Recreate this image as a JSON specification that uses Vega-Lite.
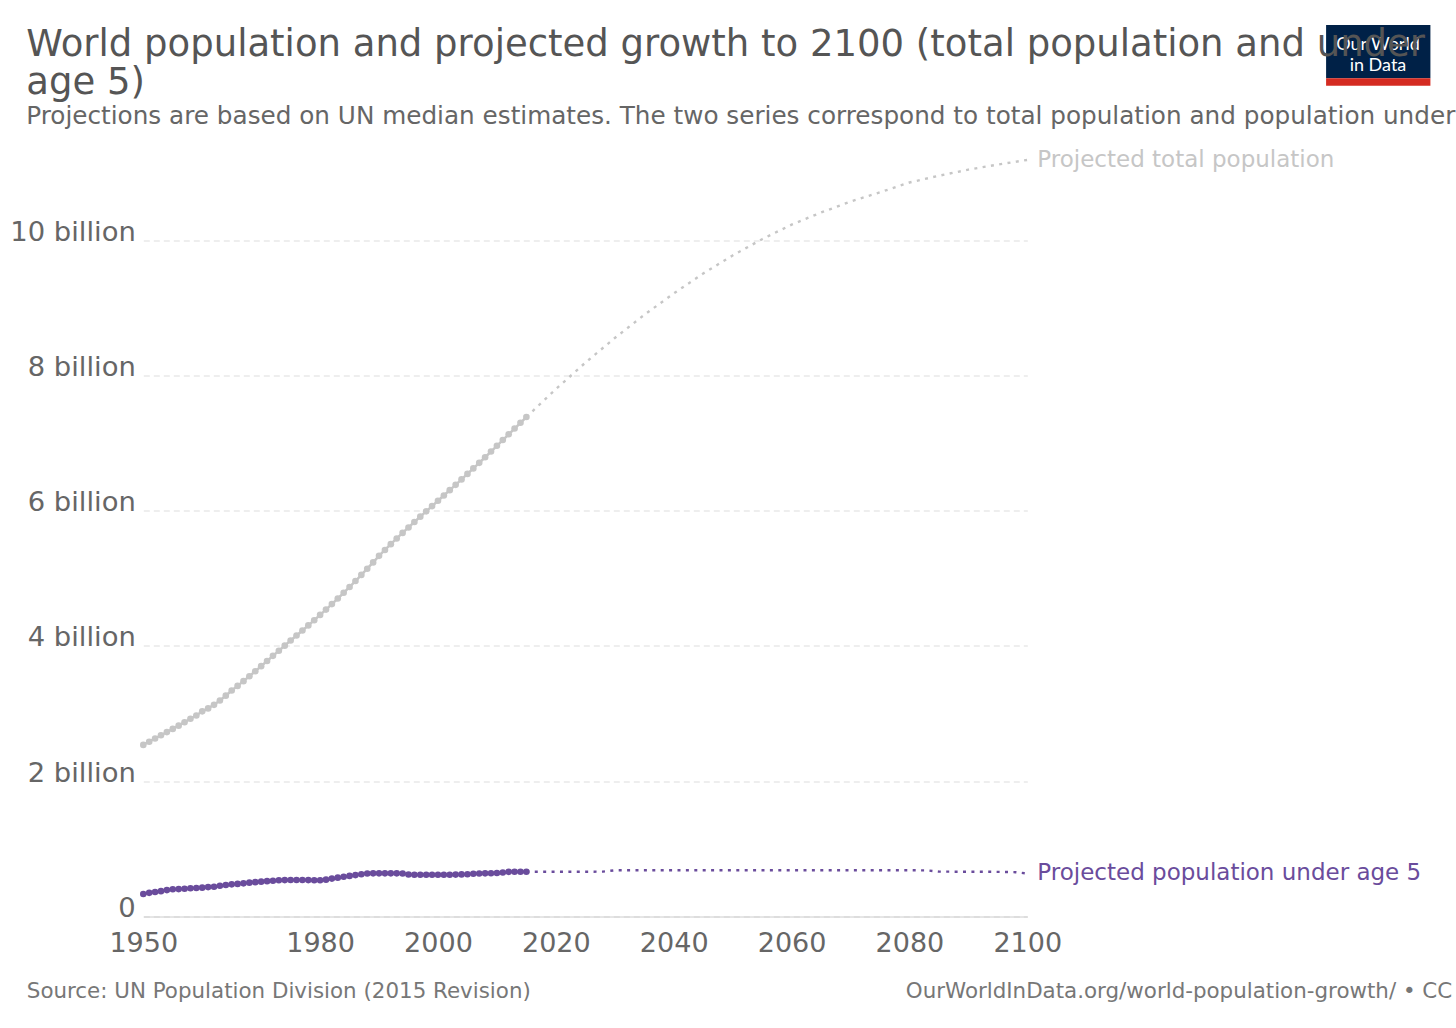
{
  "$schema": "https://vega.github.io/schema/vega-lite/v6.json",
  "width": 884,
  "height": 757,
  "autosize": {"type": "none"},
  "padding": {"left": 143.3, "top": 159.5, "right": 428.7, "bottom": 111.5},
  "background": "#ffffff",
  "config": {
    "view": {"stroke": null},
    "font": "DejaVu Sans",
    "text": {"font": "DejaVu Sans"}
  },
  "title": {
    "text": ["World population and projected growth to 2100 (total population and under", "age 5)"],
    "subtitle": "Projections are based on UN median estimates. The two series correspond to total population and population under",
    "anchor": "start",
    "frame": "group",
    "dx": -117,
    "offset": -105,
    "font": "DejaVu Sans",
    "fontSize": 37,
    "fontWeight": "normal",
    "lineHeight": 38,
    "color": "#555555",
    "subtitleFont": "DejaVu Sans",
    "subtitleFontSize": 24.7,
    "subtitleColor": "#666666",
    "subtitlePadding": 2
  },
  "data": {
    "values": [
      {"year": 1950, "series": "Total population", "period": "historical", "population_billions": 2.536},
      {"year": 1951, "series": "Total population", "period": "historical", "population_billions": 2.584},
      {"year": 1952, "series": "Total population", "period": "historical", "population_billions": 2.631},
      {"year": 1953, "series": "Total population", "period": "historical", "population_billions": 2.679},
      {"year": 1954, "series": "Total population", "period": "historical", "population_billions": 2.726},
      {"year": 1955, "series": "Total population", "period": "historical", "population_billions": 2.773},
      {"year": 1956, "series": "Total population", "period": "historical", "population_billions": 2.821},
      {"year": 1957, "series": "Total population", "period": "historical", "population_billions": 2.871},
      {"year": 1958, "series": "Total population", "period": "historical", "population_billions": 2.923},
      {"year": 1959, "series": "Total population", "period": "historical", "population_billions": 2.971},
      {"year": 1960, "series": "Total population", "period": "historical", "population_billions": 3.033},
      {"year": 1961, "series": "Total population", "period": "historical", "population_billions": 3.076},
      {"year": 1962, "series": "Total population", "period": "historical", "population_billions": 3.129},
      {"year": 1963, "series": "Total population", "period": "historical", "population_billions": 3.193},
      {"year": 1964, "series": "Total population", "period": "historical", "population_billions": 3.264},
      {"year": 1965, "series": "Total population", "period": "historical", "population_billions": 3.340},
      {"year": 1966, "series": "Total population", "period": "historical", "population_billions": 3.409},
      {"year": 1967, "series": "Total population", "period": "historical", "population_billions": 3.479},
      {"year": 1968, "series": "Total population", "period": "historical", "population_billions": 3.551},
      {"year": 1969, "series": "Total population", "period": "historical", "population_billions": 3.625},
      {"year": 1970, "series": "Total population", "period": "historical", "population_billions": 3.701},
      {"year": 1971, "series": "Total population", "period": "historical", "population_billions": 3.777},
      {"year": 1972, "series": "Total population", "period": "historical", "population_billions": 3.853},
      {"year": 1973, "series": "Total population", "period": "historical", "population_billions": 3.929},
      {"year": 1974, "series": "Total population", "period": "historical", "population_billions": 4.004},
      {"year": 1975, "series": "Total population", "period": "historical", "population_billions": 4.079},
      {"year": 1976, "series": "Total population", "period": "historical", "population_billions": 4.153},
      {"year": 1977, "series": "Total population", "period": "historical", "population_billions": 4.227},
      {"year": 1978, "series": "Total population", "period": "historical", "population_billions": 4.303},
      {"year": 1979, "series": "Total population", "period": "historical", "population_billions": 4.380},
      {"year": 1980, "series": "Total population", "period": "historical", "population_billions": 4.458},
      {"year": 1981, "series": "Total population", "period": "historical", "population_billions": 4.537},
      {"year": 1982, "series": "Total population", "period": "historical", "population_billions": 4.618},
      {"year": 1983, "series": "Total population", "period": "historical", "population_billions": 4.701},
      {"year": 1984, "series": "Total population", "period": "historical", "population_billions": 4.785},
      {"year": 1985, "series": "Total population", "period": "historical", "population_billions": 4.871},
      {"year": 1986, "series": "Total population", "period": "historical", "population_billions": 4.959},
      {"year": 1987, "series": "Total population", "period": "historical", "population_billions": 5.049},
      {"year": 1988, "series": "Total population", "period": "historical", "population_billions": 5.141},
      {"year": 1989, "series": "Total population", "period": "historical", "population_billions": 5.234},
      {"year": 1990, "series": "Total population", "period": "historical", "population_billions": 5.331},
      {"year": 1991, "series": "Total population", "period": "historical", "population_billions": 5.418},
      {"year": 1992, "series": "Total population", "period": "historical", "population_billions": 5.504},
      {"year": 1993, "series": "Total population", "period": "historical", "population_billions": 5.588},
      {"year": 1994, "series": "Total population", "period": "historical", "population_billions": 5.670},
      {"year": 1995, "series": "Total population", "period": "historical", "population_billions": 5.751},
      {"year": 1996, "series": "Total population", "period": "historical", "population_billions": 5.831},
      {"year": 1997, "series": "Total population", "period": "historical", "population_billions": 5.910},
      {"year": 1998, "series": "Total population", "period": "historical", "population_billions": 5.989},
      {"year": 1999, "series": "Total population", "period": "historical", "population_billions": 6.067},
      {"year": 2000, "series": "Total population", "period": "historical", "population_billions": 6.145},
      {"year": 2001, "series": "Total population", "period": "historical", "population_billions": 6.223},
      {"year": 2002, "series": "Total population", "period": "historical", "population_billions": 6.302},
      {"year": 2003, "series": "Total population", "period": "historical", "population_billions": 6.381},
      {"year": 2004, "series": "Total population", "period": "historical", "population_billions": 6.461},
      {"year": 2005, "series": "Total population", "period": "historical", "population_billions": 6.542},
      {"year": 2006, "series": "Total population", "period": "historical", "population_billions": 6.624},
      {"year": 2007, "series": "Total population", "period": "historical", "population_billions": 6.706},
      {"year": 2008, "series": "Total population", "period": "historical", "population_billions": 6.789},
      {"year": 2009, "series": "Total population", "period": "historical", "population_billions": 6.873},
      {"year": 2010, "series": "Total population", "period": "historical", "population_billions": 6.958},
      {"year": 2011, "series": "Total population", "period": "historical", "population_billions": 7.043},
      {"year": 2012, "series": "Total population", "period": "historical", "population_billions": 7.128},
      {"year": 2013, "series": "Total population", "period": "historical", "population_billions": 7.213},
      {"year": 2014, "series": "Total population", "period": "historical", "population_billions": 7.298},
      {"year": 2015, "series": "Total population", "period": "historical", "population_billions": 7.383},
      {"year": 2015, "series": "Total population", "period": "projected", "population_billions": 7.383},
      {"year": 2020, "series": "Total population", "period": "projected", "population_billions": 7.795},
      {"year": 2025, "series": "Total population", "period": "projected", "population_billions": 8.186},
      {"year": 2030, "series": "Total population", "period": "projected", "population_billions": 8.551},
      {"year": 2035, "series": "Total population", "period": "projected", "population_billions": 8.893},
      {"year": 2040, "series": "Total population", "period": "projected", "population_billions": 9.210},
      {"year": 2045, "series": "Total population", "period": "projected", "population_billions": 9.504},
      {"year": 2050, "series": "Total population", "period": "projected", "population_billions": 9.772},
      {"year": 2055, "series": "Total population", "period": "projected", "population_billions": 10.012},
      {"year": 2060, "series": "Total population", "period": "projected", "population_billions": 10.227},
      {"year": 2065, "series": "Total population", "period": "projected", "population_billions": 10.406},
      {"year": 2070, "series": "Total population", "period": "projected", "population_billions": 10.568},
      {"year": 2075, "series": "Total population", "period": "projected", "population_billions": 10.705},
      {"year": 2080, "series": "Total population", "period": "projected", "population_billions": 10.850},
      {"year": 2085, "series": "Total population", "period": "projected", "population_billions": 10.950},
      {"year": 2090, "series": "Total population", "period": "projected", "population_billions": 11.040},
      {"year": 2095, "series": "Total population", "period": "projected", "population_billions": 11.115},
      {"year": 2100, "series": "Total population", "period": "projected", "population_billions": 11.184},
      {"year": 1950, "series": "Population under age 5", "period": "historical", "population_billions": 0.333},
      {"year": 1951, "series": "Population under age 5", "period": "historical", "population_billions": 0.350},
      {"year": 1952, "series": "Population under age 5", "period": "historical", "population_billions": 0.362},
      {"year": 1953, "series": "Population under age 5", "period": "historical", "population_billions": 0.375},
      {"year": 1954, "series": "Population under age 5", "period": "historical", "population_billions": 0.390},
      {"year": 1955, "series": "Population under age 5", "period": "historical", "population_billions": 0.403},
      {"year": 1956, "series": "Population under age 5", "period": "historical", "population_billions": 0.405},
      {"year": 1957, "series": "Population under age 5", "period": "historical", "population_billions": 0.410},
      {"year": 1958, "series": "Population under age 5", "period": "historical", "population_billions": 0.418},
      {"year": 1959, "series": "Population under age 5", "period": "historical", "population_billions": 0.422},
      {"year": 1960, "series": "Population under age 5", "period": "historical", "population_billions": 0.426},
      {"year": 1961, "series": "Population under age 5", "period": "historical", "population_billions": 0.435},
      {"year": 1962, "series": "Population under age 5", "period": "historical", "population_billions": 0.440},
      {"year": 1963, "series": "Population under age 5", "period": "historical", "population_billions": 0.455},
      {"year": 1964, "series": "Population under age 5", "period": "historical", "population_billions": 0.465},
      {"year": 1965, "series": "Population under age 5", "period": "historical", "population_billions": 0.475},
      {"year": 1966, "series": "Population under age 5", "period": "historical", "population_billions": 0.482},
      {"year": 1967, "series": "Population under age 5", "period": "historical", "population_billions": 0.490},
      {"year": 1968, "series": "Population under age 5", "period": "historical", "population_billions": 0.500},
      {"year": 1969, "series": "Population under age 5", "period": "historical", "population_billions": 0.508},
      {"year": 1970, "series": "Population under age 5", "period": "historical", "population_billions": 0.515},
      {"year": 1971, "series": "Population under age 5", "period": "historical", "population_billions": 0.522},
      {"year": 1972, "series": "Population under age 5", "period": "historical", "population_billions": 0.528},
      {"year": 1973, "series": "Population under age 5", "period": "historical", "population_billions": 0.535},
      {"year": 1974, "series": "Population under age 5", "period": "historical", "population_billions": 0.538},
      {"year": 1975, "series": "Population under age 5", "period": "historical", "population_billions": 0.540},
      {"year": 1976, "series": "Population under age 5", "period": "historical", "population_billions": 0.540},
      {"year": 1977, "series": "Population under age 5", "period": "historical", "population_billions": 0.540},
      {"year": 1978, "series": "Population under age 5", "period": "historical", "population_billions": 0.538},
      {"year": 1979, "series": "Population under age 5", "period": "historical", "population_billions": 0.536},
      {"year": 1980, "series": "Population under age 5", "period": "historical", "population_billions": 0.535},
      {"year": 1981, "series": "Population under age 5", "period": "historical", "population_billions": 0.545},
      {"year": 1982, "series": "Population under age 5", "period": "historical", "population_billions": 0.560},
      {"year": 1983, "series": "Population under age 5", "period": "historical", "population_billions": 0.574},
      {"year": 1984, "series": "Population under age 5", "period": "historical", "population_billions": 0.588},
      {"year": 1985, "series": "Population under age 5", "period": "historical", "population_billions": 0.600},
      {"year": 1986, "series": "Population under age 5", "period": "historical", "population_billions": 0.612},
      {"year": 1987, "series": "Population under age 5", "period": "historical", "population_billions": 0.625},
      {"year": 1988, "series": "Population under age 5", "period": "historical", "population_billions": 0.635},
      {"year": 1989, "series": "Population under age 5", "period": "historical", "population_billions": 0.638},
      {"year": 1990, "series": "Population under age 5", "period": "historical", "population_billions": 0.638},
      {"year": 1991, "series": "Population under age 5", "period": "historical", "population_billions": 0.638},
      {"year": 1992, "series": "Population under age 5", "period": "historical", "population_billions": 0.638},
      {"year": 1993, "series": "Population under age 5", "period": "historical", "population_billions": 0.638},
      {"year": 1994, "series": "Population under age 5", "period": "historical", "population_billions": 0.636},
      {"year": 1995, "series": "Population under age 5", "period": "historical", "population_billions": 0.620},
      {"year": 1996, "series": "Population under age 5", "period": "historical", "population_billions": 0.618},
      {"year": 1997, "series": "Population under age 5", "period": "historical", "population_billions": 0.618},
      {"year": 1998, "series": "Population under age 5", "period": "historical", "population_billions": 0.618},
      {"year": 1999, "series": "Population under age 5", "period": "historical", "population_billions": 0.618},
      {"year": 2000, "series": "Population under age 5", "period": "historical", "population_billions": 0.618},
      {"year": 2001, "series": "Population under age 5", "period": "historical", "population_billions": 0.618},
      {"year": 2002, "series": "Population under age 5", "period": "historical", "population_billions": 0.618},
      {"year": 2003, "series": "Population under age 5", "period": "historical", "population_billions": 0.619},
      {"year": 2004, "series": "Population under age 5", "period": "historical", "population_billions": 0.622},
      {"year": 2005, "series": "Population under age 5", "period": "historical", "population_billions": 0.625},
      {"year": 2006, "series": "Population under age 5", "period": "historical", "population_billions": 0.632},
      {"year": 2007, "series": "Population under age 5", "period": "historical", "population_billions": 0.636},
      {"year": 2008, "series": "Population under age 5", "period": "historical", "population_billions": 0.638},
      {"year": 2009, "series": "Population under age 5", "period": "historical", "population_billions": 0.640},
      {"year": 2010, "series": "Population under age 5", "period": "historical", "population_billions": 0.643},
      {"year": 2011, "series": "Population under age 5", "period": "historical", "population_billions": 0.650},
      {"year": 2012, "series": "Population under age 5", "period": "historical", "population_billions": 0.660},
      {"year": 2013, "series": "Population under age 5", "period": "historical", "population_billions": 0.662},
      {"year": 2014, "series": "Population under age 5", "period": "historical", "population_billions": 0.662},
      {"year": 2015, "series": "Population under age 5", "period": "historical", "population_billions": 0.662},
      {"year": 2015, "series": "Population under age 5", "period": "projected", "population_billions": 0.662},
      {"year": 2020, "series": "Population under age 5", "period": "projected", "population_billions": 0.662},
      {"year": 2025, "series": "Population under age 5", "period": "projected", "population_billions": 0.662},
      {"year": 2028, "series": "Population under age 5", "period": "projected", "population_billions": 0.663},
      {"year": 2030, "series": "Population under age 5", "period": "projected", "population_billions": 0.683},
      {"year": 2040, "series": "Population under age 5", "period": "projected", "population_billions": 0.684},
      {"year": 2050, "series": "Population under age 5", "period": "projected", "population_billions": 0.684},
      {"year": 2060, "series": "Population under age 5", "period": "projected", "population_billions": 0.684},
      {"year": 2070, "series": "Population under age 5", "period": "projected", "population_billions": 0.684},
      {"year": 2080, "series": "Population under age 5", "period": "projected", "population_billions": 0.683},
      {"year": 2083, "series": "Population under age 5", "period": "projected", "population_billions": 0.682},
      {"year": 2085, "series": "Population under age 5", "period": "projected", "population_billions": 0.663},
      {"year": 2090, "series": "Population under age 5", "period": "projected", "population_billions": 0.662},
      {"year": 2095, "series": "Population under age 5", "period": "projected", "population_billions": 0.660},
      {"year": 2098, "series": "Population under age 5", "period": "projected", "population_billions": 0.655},
      {"year": 2100, "series": "Population under age 5", "period": "projected", "population_billions": 0.636}
    ]
  },
  "layer": [
    {
      "transform": [{"filter": "datum.period == 'historical'"}],
      "mark": {"type": "line", "strokeWidth": 2.5},
      "encoding": {
        "x": {
          "field": "year",
          "type": "quantitative",
          "scale": {"domain": [1950, 2100], "nice": false, "zero": false},
          "axis": {
            "values": [1950, 1980, 2000, 2020, 2040, 2060, 2080, 2100],
            "format": "d",
            "grid": false,
            "ticks": false,
            "domainColor": "#cccccc",
            "domainWidth": 1,
            "labelFont": "DejaVu Sans",
            "labelFontSize": 27,
            "labelColor": "#666666",
            "labelPadding": 14,
            "labelFlush": false,
            "labelOverlap": false,
            "title": "Source: UN Population Division (2015 Revision)",
            "titleFont": "DejaVu Sans",
            "titleFontSize": 21.4,
            "titleFontWeight": "normal",
            "titleColor": "#777777",
            "titleAnchor": "start",
            "titleAlign": "left",
            "titleBaseline": "alphabetic",
            "titleX": -117,
            "titleY": 80.5
          }
        },
        "y": {
          "field": "population_billions",
          "type": "quantitative",
          "scale": {"domain": [0, 11.19], "nice": false},
          "axis": {
            "values": [0, 2, 4, 6, 8, 10],
            "labelExpr": "datum.value == 0 ? '0' : datum.value + ' billion'",
            "grid": true,
            "gridColor": "#dddddd",
            "gridDash": [6, 4],
            "gridWidth": 1,
            "ticks": false,
            "domain": false,
            "labelFont": "DejaVu Sans",
            "labelFontSize": 27.4,
            "labelColor": "#666666",
            "labelBaseline": "alphabetic",
            "labelAlign": "right",
            "labelPadding": 8,
            "labelOverlap": false,
            "title": "OurWorldInData.org/world-population-growth/ • CC",
            "titleFont": "DejaVu Sans",
            "titleFontSize": 21.4,
            "titleFontWeight": "normal",
            "titleColor": "#777777",
            "titleAngle": 0,
            "titleAlign": "left",
            "titleBaseline": "alphabetic",
            "titleX": 762,
            "titleY": 837.5
          }
        },
        "color": {
          "field": "series",
          "type": "nominal",
          "scale": {"domain": ["Total population", "Population under age 5"], "range": ["#c6c6c6", "#6a4c9c"]},
          "legend": null
        }
      }
    },
    {
      "transform": [{"filter": "datum.period == 'historical'"}],
      "mark": {"type": "circle", "size": 44, "opacity": 1},
      "encoding": {
        "x": {"field": "year", "type": "quantitative"},
        "y": {"field": "population_billions", "type": "quantitative"},
        "color": {"field": "series", "type": "nominal", "legend": null}
      }
    },
    {
      "transform": [{"filter": "datum.period == 'projected'"}],
      "mark": {"type": "line", "strokeWidth": 2.4, "strokeDash": [3, 5.4]},
      "encoding": {
        "x": {"field": "year", "type": "quantitative"},
        "y": {"field": "population_billions", "type": "quantitative"},
        "color": {"field": "series", "type": "nominal", "legend": null}
      }
    },
    {
      "transform": [
        {"filter": "datum.period == 'projected' && datum.year == 2100"},
        {"calculate": "'Projected ' + lower(datum.series)", "as": "label"}
      ],
      "mark": {"type": "text", "align": "left", "baseline": "middle", "dx": 10, "fontSize": 23, "font": "DejaVu Sans"},
      "encoding": {
        "x": {"field": "year", "type": "quantitative"},
        "y": {"field": "population_billions", "type": "quantitative"},
        "text": {"field": "label"},
        "color": {"field": "series", "type": "nominal", "legend": null}
      }
    },
    {
      "data": {"values": [{"part": "logo box"}]},
      "mark": {"type": "rect", "fill": "#002147"},
      "encoding": {
        "x": {"datum": 2150.7, "type": "quantitative"},
        "x2": {"datum": 2168.4},
        "y": {"datum": 13.178, "type": "quantitative"},
        "y2": {"datum": 12.39}
      }
    },
    {
      "data": {"values": [{"part": "logo bar"}]},
      "mark": {"type": "rect", "fill": "#d42b21"},
      "encoding": {
        "x": {"datum": 2150.7, "type": "quantitative"},
        "x2": {"datum": 2168.4},
        "y": {"datum": 12.39, "type": "quantitative"},
        "y2": {"datum": 12.281}
      }
    },
    {
      "data": {"values": [{"logo": "Our World\nin Data"}]},
      "mark": {"type": "text", "fill": "#ffffff", "font": "Lato", "fontSize": 18, "align": "center", "baseline": "alphabetic", "lineBreak": "\n", "lineHeight": 20.7},
      "encoding": {
        "x": {"datum": 2159.5, "type": "quantitative"},
        "y": {"datum": 12.809, "type": "quantitative"},
        "text": {"field": "logo"}
      }
    }
  ]
}
